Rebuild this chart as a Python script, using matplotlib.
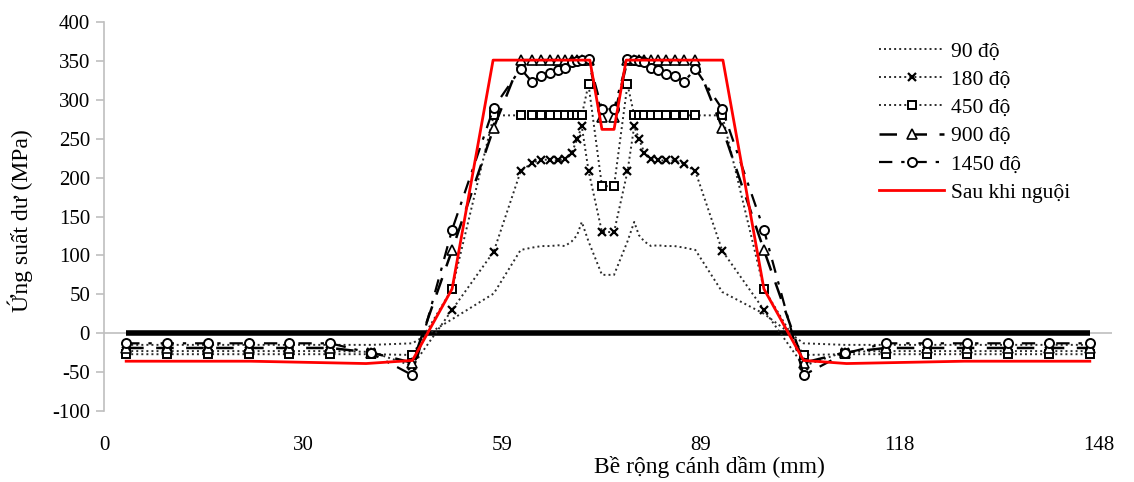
import numpy as np
import matplotlib
matplotlib.use("Agg")
import matplotlib.pyplot as plt

# -------------------------------
# DATA
# -------------------------------
x_mm = [3.3, 9.4, 15.5, 21.6, 27.6, 33.7, 39.8, 45.9, 51.8, 58.0,
        62.0, 63.7, 65.1, 66.4, 67.6, 68.6, 69.6, 70.4, 71.1, 72.1, 74.1,
        75.9, 77.9, 78.9, 79.6, 80.4, 81.4, 82.4, 83.6, 84.9, 86.3, 88.0,
        92.0, 98.2, 104.1, 110.2, 116.3, 122.4, 128.4, 134.5, 140.6, 146.7]

s90 = [-15, -15, -15, -15, -15, -15, -15, -13, 18, 51,
       107, 110, 112, 112, 113, 112, 118, 126, 143, 118, 75,
       75, 118, 143, 126, 118, 112, 113, 112, 112, 110, 107,
       53, 25, -13, -15, -15, -15, -15, -15, -15, -15]

s180 = [-23, -23, -23, -23, -23, -23, -24, -42, 30, 105,
        208, 219, 223, 223, 222, 224, 232, 249, 266, 209, 130,
        130, 208, 266, 250, 232, 224, 222, 222, 222, 218, 208,
        106, 30, -42, -24, -23, -23, -23, -23, -23, -23]

s450 = [-27, -27, -27, -27, -27, -27, -27, -28, 57, 280,
        280, 280, 280, 280, 280, 280, 280, 280, 280, 320, 189,
        189, 320, 280, 280, 280, 280, 280, 280, 280, 280, 280,
        280, 57, -28, -27, -27, -27, -27, -27, -27, -27]

s900 = [-19, -19, -19, -19, -19, -19, -25, -38, 107, 264,
        351, 351, 351, 351, 351, 351, 351, 351, 351, 351, 278,
        278, 351, 351, 351, 351, 351, 351, 351, 351, 351, 351,
        264, 107, -38, -25, -19, -19, -19, -19, -19, -19]

s1450 = [-13, -13, -13, -13, -13, -13, -26, -54, 133, 290,
         340, 323, 331, 334, 338, 341, 349, 350, 351, 352, 288,
         288, 352, 351, 350, 349, 341, 338, 333, 331, 323, 340,
         288, 133, -54, -26, -13, -13, -13, -13, -13, -13]

x_cool = [3.3, 21.8, 39.0, 45.9, 51.8, 57.9, 72.3, 74.1, 75.9, 77.7,
          92.1, 98.2, 104.1, 110.5, 128.0, 146.7]
s_cool = [-36, -36, -39, -35, 57, 351, 351, 262, 262, 351,
          351, 57, -35, -39, -36, -36]

legend_labels = ["90 độ", "180 độ", "450 độ", "900 độ", "1450 độ", "Sau khi nguội"]

xticks = [0, 29.6, 59.2, 88.8, 118.4, 148]
xtick_labels = ["0", "30", "59", "89", "118", "148"]
yticks = [-100, -50, 0, 50, 100, 150, 200, 250, 300, 350, 400]

# -------------------------------
# PLOT
# -------------------------------
plt.rcParams["font.family"] = ["Liberation Serif", "DejaVu Serif"]
plt.rcParams["axes.unicode_minus"] = False

W, H = 1134, 482
fig = plt.figure(figsize=(W / 100, H / 100), dpi=100)
ax = fig.add_axes([104 / W, 1 - 411 / H, (1112 - 104) / W, (411 - 22) / H])

grey = "#bfbfbf"
ink = "#2b2b2b"

ax.axhline(0, color=grey, lw=1.2, zorder=1)
ax.hlines(0, x_mm[0], x_mm[-1], color="black", lw=4, zorder=2)

ax.plot(x_mm, s90, color=ink, lw=1.4, ls=(0, (1, 1.6)), label=legend_labels[0], zorder=3)
ax.plot(x_mm, s180, color=ink, lw=1.4, ls=(0, (1, 1.6)), marker="x", ms=5.5,
        mew=1.6, mec="black", label=legend_labels[1], zorder=3)
ax.plot(x_mm, s450, color=ink, lw=1.4, ls=(0, (1, 1.6)), marker="s", ms=6,
        mfc="white", mec="black", mew=1.4, label=legend_labels[2], zorder=3)
ax.plot(x_mm, s900, color="black", lw=1.8, ls=(0, (7, 5)), marker="^", ms=6.5,
        mfc="white", mec="black", mew=1.2, label=legend_labels[3], zorder=4)
ax.plot(x_mm, s1450, color="black", lw=1.6, ls=(0, (6, 4, 1.5, 4)), marker="o", ms=6.5,
        mfc="white", mec="black", mew=1.4, label=legend_labels[4], zorder=4)
ax.plot(x_cool, s_cool, color="red", lw=2, label=legend_labels[5], zorder=5)

ax.set_xlim(0, 150)
ax.set_ylim(-100, 400)
ax.set_xticks(xticks)
ax.set_xticklabels(xtick_labels)
ax.set_yticks(yticks)

for side in ["top", "right", "bottom"]:
    ax.spines[side].set_visible(False)
ax.spines["left"].set_color(grey)
ax.spines["left"].set_linewidth(1.2)

ax.tick_params(axis="y", direction="out", length=6, color=grey, width=1.2,
               labelsize=15, pad=4)
ax.tick_params(axis="x", length=0, labelsize=15, pad=18)

ax.set_ylabel("Ứng suất dư (MPa)", fontsize=17)
ax.yaxis.set_label_coords(-0.07, 0.49)
ax.set_xlabel("Bề rộng cánh dầm (mm)", fontsize=17)
ax.xaxis.set_label_coords(0.601, -0.115)

leg = ax.legend(loc="upper left", bbox_to_anchor=(0.75, 1.0), frameon=False,
                fontsize=15.5, handlelength=3.0, handletextpad=0.35,
                labelspacing=0.38, numpoints=1)

fig.savefig("out.png", dpi=100)
